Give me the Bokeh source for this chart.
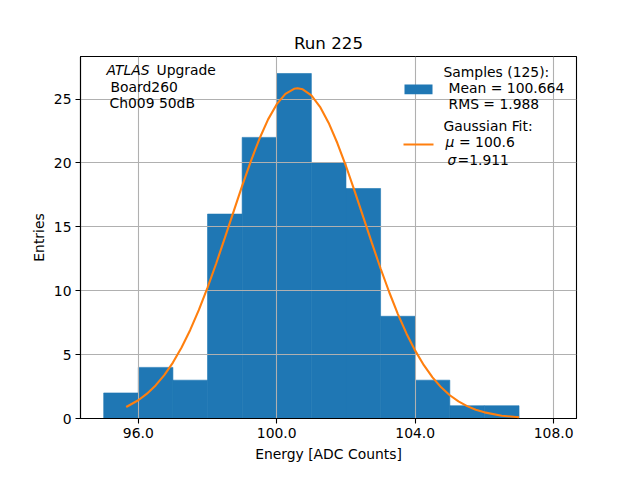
from bokeh.plotting import figure
from bokeh.models import (Range1d, FixedTicker, PrintfTickFormatter, Label,
                          BoxAnnotation, PolyAnnotation)
from bokeh.embed import file_html
from bokeh.resources import INLINE

# ---- data ----
bin_edges = [95, 96, 97, 98, 99, 100, 101, 102, 103, 104, 105, 106, 107]
counts = [2, 4, 3, 16, 22, 27, 20, 18, 8, 3, 1, 1]

fit_x = [95.65, 96.0, 96.25, 96.5, 96.75, 97.0, 97.25, 97.5, 97.75, 98.0,
         98.25, 98.5, 98.75, 99.0, 99.25, 99.5, 99.75, 100.0, 100.25, 100.5,
         100.6, 100.75, 101.0, 101.25, 101.5, 101.75, 102.0, 102.25, 102.5,
         102.75, 103.0, 103.25, 103.5, 103.75, 104.0, 104.25, 104.5, 104.75,
         105.0, 105.25, 105.5, 105.75, 106.0, 106.5, 107.0]
fit_y = [0.90, 1.43, 1.94, 2.59, 3.40, 4.38, 5.56, 6.93, 8.50, 10.24,
         12.13, 14.13, 16.17, 18.20, 20.13, 21.89, 23.41, 24.60, 25.41, 25.80,
         25.84, 25.76, 25.28, 24.39, 23.13, 21.56, 19.76, 17.80, 15.76,
         13.72, 11.74, 9.88, 8.17, 6.64, 5.31, 4.17, 3.22, 2.44,
         1.82, 1.34, 0.97, 0.68, 0.48, 0.22, 0.095]

x_ticks = [96, 100, 104, 108]
y_ticks = [0, 5, 10, 15, 20, 25]

title_text = "Run 225"
x_label = "Energy [ADC Counts]"
y_label = "Entries"

FONT = "DejaVu Sans"
BLUE = "#1f77b4"
ORANGE = "#ff7f0e"

W, H = 624, 464
B_LEFT, B_RIGHT, B_TOP, B_BOTTOM = 80, 48, 56, 43
FRAME_H = H - B_TOP - B_BOTTOM

p = figure(width=W, height=H, output_backend="svg", toolbar_location=None,
           x_range=Range1d(94.33, 108.66), y_range=Range1d(0, 28.33),
           min_border_left=B_LEFT, min_border_right=B_RIGHT,
           min_border_top=B_TOP, min_border_bottom=B_BOTTOM, title=title_text)

p.background_fill_color = "white"
p.border_fill_color = "white"
p.outline_line_color = "black"
p.outline_line_width = 1.1

p.title.text_font = FONT
p.title.text_font_size = "16.7px"
p.title.text_font_style = "normal"
p.title.text_color = "black"
p.title.align = "center"
p.title.standoff = 8

bars = p.quad(left=bin_edges[:-1], right=bin_edges[1:], top=counts, bottom=0,
              fill_color=BLUE, line_color=BLUE, line_width=0.6)
bars.level = "underlay"

fit = p.line(fit_x, fit_y, line_color=ORANGE, line_width=2.1)
fit.level = "annotation"

for ax in (p.xaxis[0], p.yaxis[0]):
    ax.axis_line_color = "black"
    ax.axis_line_width = 1.1
    ax.major_tick_line_color = "black"
    ax.major_tick_line_width = 1.1
    ax.major_tick_out = 5
    ax.major_tick_in = 0
    ax.minor_tick_line_color = None
    ax.major_label_text_font = FONT
    ax.major_label_text_font_size = "13.9px"
    ax.major_label_text_color = "black"
    ax.axis_label_text_font = FONT
    ax.axis_label_text_font_size = "13.9px"
    ax.axis_label_text_font_style = "normal"
    ax.axis_label_text_color = "black"

p.xaxis[0].ticker = FixedTicker(ticks=x_ticks)
p.xaxis[0].formatter = PrintfTickFormatter(format="%.1f")
p.xaxis[0].axis_label = x_label
p.xaxis[0].major_label_standoff = 4
p.xaxis[0].axis_label_standoff = 5

p.yaxis[0].ticker = FixedTicker(ticks=y_ticks)
p.yaxis[0].axis_label = y_label
p.yaxis[0].major_label_standoff = 4
p.yaxis[0].axis_label_standoff = 4

for g in (p.xgrid[0], p.ygrid[0]):
    g.grid_line_color = "#b0b0b0"
    g.grid_line_width = 1.1
    g.level = "glyph"

# ---- annotations (screen px; x from frame left, dy from frame top) ----
def lab(x, dy, text, style="normal"):
    p.add_layout(Label(x=x, y=FRAME_H - dy, x_units="screen", y_units="screen",
                       text=text, text_font=FONT, text_font_size="13.9px",
                       text_font_style=style, text_color="black",
                       text_align="left", text_baseline="middle"))

lab(26, 16.3, "ATLAS", "italic")
lab(76, 16.3, "Upgrade")
lab(30, 33.7, "Board260")
lab(29, 49.7, "Ch009 50dB")

lab(363, 18.7, "Samples (125):")
lab(368, 34.3, "Mean = 100.664")
lab(368, 50.3, "RMS = 1.988")
lab(363, 72, "Gaussian Fit:")
lab(365, 88.7, "\u03bc", "italic")
lab(378.5, 88.7, "= 100.6")
lab(367, 106, "\u03c3", "italic")
lab(377, 106, "=1.911")

p.add_layout(BoxAnnotation(left=324, right=352, bottom=FRAME_H - 40.7,
                           top=FRAME_H - 31,
                           left_units="screen", right_units="screen",
                           bottom_units="screen", top_units="screen",
                           fill_color=BLUE, fill_alpha=1.0, line_color=None))
p.add_layout(PolyAnnotation(xs=[323, 353], ys=[FRAME_H - 91, FRAME_H - 91],
                            xs_units="screen", ys_units="screen",
                            fill_alpha=0, line_color=ORANGE, line_alpha=1.0,
                            line_width=2.1))

open("out.html", "w").write(file_html(p, INLINE))
